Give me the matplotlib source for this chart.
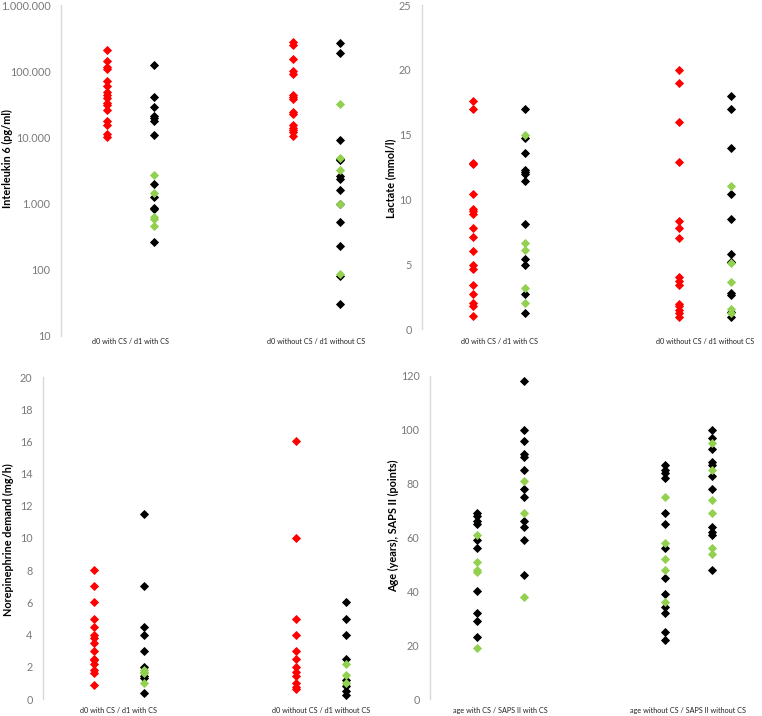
import numpy as np
import matplotlib
matplotlib.use('Agg')
from matplotlib import pyplot as plt
from matplotlib.ticker import FuncFormatter

plt.rcParams['font.family'] = ['Lato', 'DejaVu Sans']

RED = '#ff0000'
GREEN = '#92d050'
BLACK = '#000000'

# Interleukin 6 (pg/ml)
il6_d0_cs = [210000, 143000, 117000, 107000, 70000, 60000, 49000, 43000, 40000,
             33000, 31000, 26000, 18000, 15600, 11300, 10100]
il6_d1_cs_black = [124000, 41000, 29000, 21000, 19500, 18000, 10700, 1960, 1260, 870, 820, 260]
il6_d1_cs_green = [2750, 1440, 630, 590, 460]
il6_d0_nocs = [280000, 250000, 153000, 100000, 92000, 44000, 41000, 38000, 23800,
               22700, 15600, 14100, 13000, 11900, 10400]
il6_d1_nocs_black = [263000, 190000, 9000, 4700, 4500, 2600, 2350, 1620, 1000, 520, 225, 80, 30]
il6_d1_nocs_green = [32000, 4900, 3200, 1000, 85]

# Lactate (mmol/l)
lac_d0_cs = [17.6, 17.0, 12.8, 12.7, 10.4, 9.25, 9.1, 8.9, 7.8, 7.1, 6.0, 4.9, 4.6, 3.4, 2.7, 2.0, 1.8, 1.0]
lac_d1_cs_black = [17.0, 14.7, 13.6, 12.3, 12.15, 11.95, 11.4, 8.1, 5.4, 4.9, 2.7, 1.2]
lac_d1_cs_green = [15.0, 6.6, 6.1, 3.2, 2.0]
lac_d0_nocs = [20.0, 19.0, 16.0, 12.9, 8.3, 7.8, 7.0, 4.0, 3.7, 3.4, 1.9, 1.75, 1.45, 1.25, 0.9]
lac_d1_nocs_black = [18.0, 17.0, 14.0, 10.4, 8.5, 5.8, 5.2, 5.15, 2.75, 2.6, 1.35, 0.9]
lac_d1_nocs_green = [11.0, 5.1, 3.6, 1.55, 1.25]

# Norepinephrine demand (mg/h)
ne_d0_cs = [8, 7, 6, 5, 4.5, 4, 3.8, 3.5, 3, 2.5, 2.4, 2.2, 1.8, 1.6, 0.9]
ne_d1_cs_black = [11.5, 7, 4.5, 4, 3, 2, 1.45, 1.3, 0.4]
ne_d1_cs_green = [1.8, 1.7, 1.6, 1.0]
ne_d0_nocs = [16, 10, 5, 4, 3, 2.5, 2, 1.7, 1.45, 1.0, 0.75, 0.6]
ne_d1_nocs_black = [6, 5, 4, 2.5, 1.2, 0.8, 0.5, 0.25]
ne_d1_nocs_green = [2.2, 1.5, 1.0]

# Age (years), SAPS II (points)
age_cs_black = [69, 68, 66, 65, 59, 56, 40, 32, 29, 23]
age_cs_green = [61, 51, 48, 47, 19]
saps_cs_black = [118, 100, 96, 91, 90, 85, 78, 75, 66, 64, 59, 46]
saps_cs_green = [81, 69, 38]
age_nocs_black = [87, 85, 84, 82, 69, 65, 56, 45, 39, 34, 32, 25, 22]
age_nocs_green = [75, 58, 52, 48, 36]
saps_nocs_black = [100, 97, 93, 88, 87, 83, 78, 64, 62, 61, 48]
saps_nocs_green = [95, 85, 74, 69, 56, 54]

cats_d = ['d0 with CS / d1 with CS', 'd0 without CS / d1 without CS']
cats_age = ['age with CS / SAPS II with CS', 'age without CS / SAPS II without CS']

W, H = 762, 716
fig = plt.figure(figsize=(W / 100, H / 100), dpi=100)


def px_axes(l, t, r, b):
    # axes from pixel box
    return fig.add_axes([l / W, 1 - b / H, (r - l) / W, (b - t) / H])


def col(ax, x, vals, c):
    ax.plot(np.full(len(vals), x), vals, ls='none', marker='D', ms=4.1,
            mfc=c, mec=c, mew=0.6)


def style(ax, xmax, cats, pad):
    ax.set_xlim(0, xmax)
    for s in ['top', 'right', 'bottom']:
        ax.spines[s].set_visible(False)
    ax.spines['left'].set_color('#d9d9d9')
    ax.spines['left'].set_linewidth(1.0)
    ax.tick_params(axis='y', length=0, pad=7.5, labelsize=7.8, labelcolor='#7a7a7a')
    ax.tick_params(axis='x', length=0, pad=pad, labelsize=5.2, labelcolor='#222222')
    ax.set_xticks([1.5, 5.5])
    ax.set_xticklabels(cats)


# panel 1 - IL-6
ax1 = px_axes(61, 5, 377, 336)
col(ax1, 1, il6_d0_cs, RED)
col(ax1, 2, il6_d1_cs_black, BLACK)
col(ax1, 2, il6_d1_cs_green, GREEN)
col(ax1, 5, il6_d0_nocs, RED)
col(ax1, 6, il6_d1_nocs_black, BLACK)
col(ax1, 6, il6_d1_nocs_green, GREEN)
ax1.set_yscale('log')
ax1.set_ylim(10, 1e6)
ax1.set_yticks([10, 100, 1000, 10000, 100000, 1000000])
ax1.yaxis.set_major_formatter(FuncFormatter(lambda v, p: f'{int(round(v)):,}'.replace(',', '.')))
ax1.yaxis.set_minor_locator(matplotlib.ticker.NullLocator())
style(ax1, 6.8, cats_d, 1.5)

# panel 2 - lactate
ax2 = px_axes(422, 5, 759, 329)
col(ax2, 1, lac_d0_cs, RED)
col(ax2, 2, lac_d1_cs_black, BLACK)
col(ax2, 2, lac_d1_cs_green, GREEN)
col(ax2, 5, lac_d0_nocs, RED)
col(ax2, 6, lac_d1_nocs_black, BLACK)
col(ax2, 6, lac_d1_nocs_green, GREEN)
ax2.set_ylim(0, 25)
ax2.set_yticks(range(0, 26, 5))
style(ax2, 6.55, cats_d, 6.5)

# panel 3 - norepinephrine
ax3 = px_axes(43, 377, 378, 699)
col(ax3, 1, ne_d0_cs, RED)
col(ax3, 2, ne_d1_cs_black, BLACK)
col(ax3, 2, ne_d1_cs_green, GREEN)
col(ax3, 5, ne_d0_nocs, RED)
col(ax3, 6, ne_d1_nocs_black, BLACK)
col(ax3, 6, ne_d1_nocs_green, GREEN)
ax3.set_ylim(0, 20)
ax3.set_yticks(range(0, 21, 2))
style(ax3, 6.63, cats_d, 5.5)

# panel 4 - age / SAPS II
ax4 = px_axes(430, 376, 759, 699)
col(ax4, 1, age_cs_black, BLACK)
col(ax4, 1, age_cs_green, GREEN)
col(ax4, 2, saps_cs_black, BLACK)
col(ax4, 2, saps_cs_green, GREEN)
col(ax4, 5, age_nocs_black, BLACK)
col(ax4, 5, age_nocs_green, GREEN)
col(ax4, 6, saps_nocs_black, BLACK)
col(ax4, 6, saps_nocs_green, GREEN)
ax4.set_ylim(0, 120)
ax4.set_yticks(range(0, 121, 20))
style(ax4, 7.0, cats_age, 5.5)

# y labels
ylabs = [(7, 159, 'Interleukin 6 (pg/ml)'),
         (391, 178, 'Lactate (mmol/l)'),
         (8, 540, 'Norepinephrine demand (mg/h)'),
         (394, 526, 'Age (years), SAPS II (points)')]
for x, y, t in ylabs:
    fig.text(x / W, 1 - y / H, t, rotation=90, ha='center', va='center',
             fontsize=7.8, fontweight='bold', color='black')

fig.savefig('out.png', dpi=100)
